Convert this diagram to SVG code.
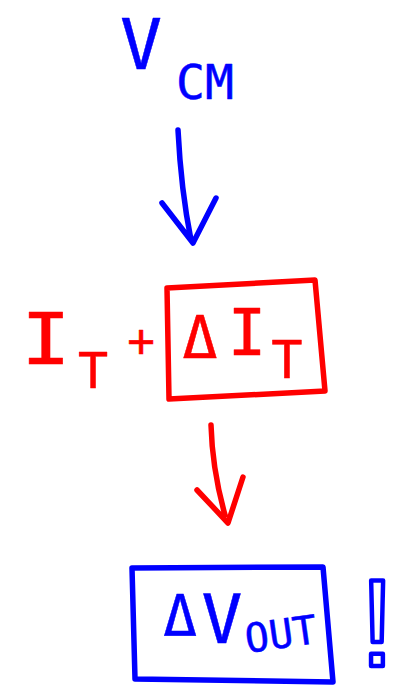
<svg xmlns="http://www.w3.org/2000/svg" width="403" height="695" viewBox="0 0 403 695">
<style>
.b{fill:#0000ff;stroke:#0000ff;stroke-width:0.5;stroke-linejoin:round}
.r{fill:#ff0000;stroke:#ff0000;stroke-width:0.5;stroke-linejoin:round}
text{font-family:"DejaVu Sans Mono","Liberation Mono",monospace;text-anchor:middle}
.lb{fill:none;stroke:#0000ff;stroke-width:5.5;stroke-linecap:round;stroke-linejoin:round}
.lr{fill:none;stroke:#ff0000;stroke-width:5.5;stroke-linecap:round;stroke-linejoin:round}
</style>
<rect width="403" height="695" fill="#ffffff"/>
<g id="vcm">
<text class="b" x="141" y="69" font-size="70">V</text>
<text class="b" x="205" y="99" font-size="48">CM</text>
</g>
<g id="current">
<text class="r" x="46" y="364" font-size="72" transform="translate(46 0) scale(1.15 1) translate(-46 0)">I</text>
<text class="r" x="93" y="388" font-size="50">T</text>
<text class="r" x="141" y="357" font-size="46">+</text>
<polygon class="lr" points="167,288 315,280 325,391 169,399"/>
<text class="r" x="200" y="358" font-size="58">Δ</text>
<text class="r" x="247" y="355" font-size="64">I</text>
<text class="r" x="287" y="378" font-size="52">T</text>
</g>
<g id="vout">
<polygon class="lb" points="132,568 323,567 333,682 135,679"/>
<text class="b" x="180" y="636" font-size="56">Δ</text>
<text class="b" x="222" y="643" font-size="68">V</text>
<text class="b" x="281" y="648" font-size="40" transform="rotate(-8 281 635)">OUT</text>
<text x="377" y="666" font-size="125" fill="none" stroke="#0000ff" stroke-width="4.5" stroke-linejoin="round" style="font-family:'Liberation Sans',Arial,sans-serif">!</text>
</g>
<g id="connectors">
<path class="lb" d="M178,130 C180,170 183,200 191,240 M162,203 L193,243 L216,198"/>
<path class="lr" d="M211,425 C212,460 218,490 225,515 M197,490 L228,523 L243,477"/>
</g>
</svg>
